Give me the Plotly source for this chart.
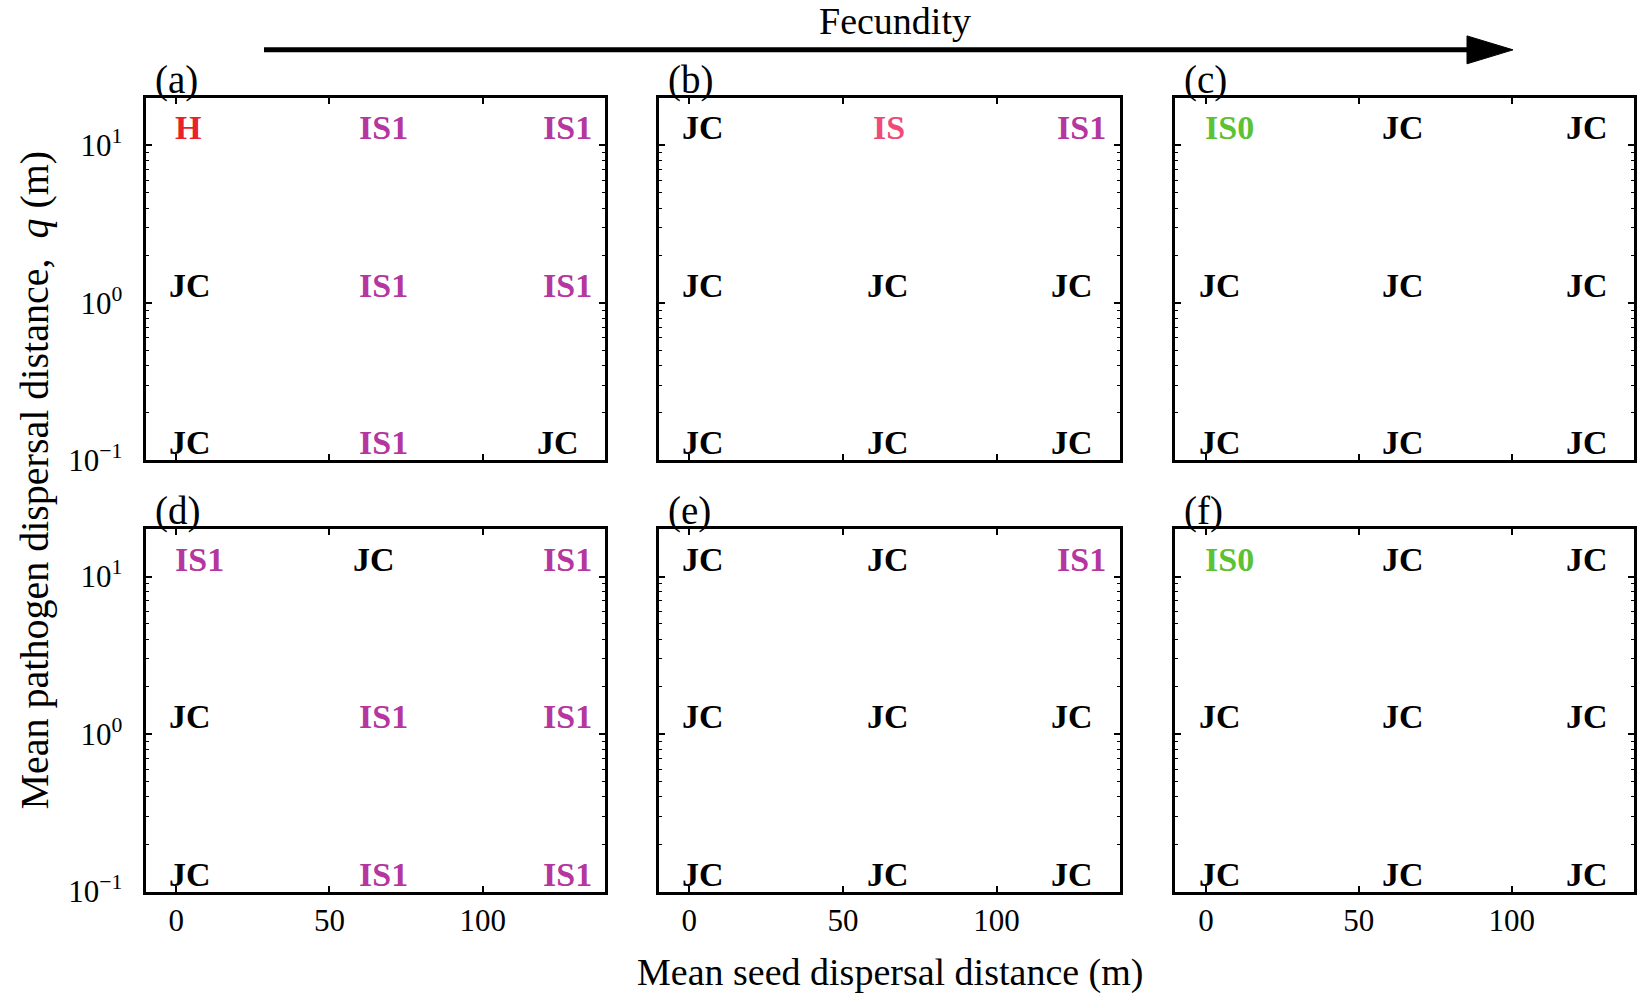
import math
import plotly.graph_objects as go

REF_W, REF_H = 1642, 995
# The photographed page comes out vertically squeezed by ~1.5%, so the figure
# is drawn slightly taller; positions are kept as fractions of the reference.
W, H = 1642, 1010

# ---- data ----
seed_distance = [0, 60, 120]            # mean seed dispersal distance (m), columns
pathogen_distance = [10, 1, 0.1]        # mean pathogen dispersal distance q (m), rows top->bottom
panel_names = ["(a)", "(b)", "(c)", "(d)", "(e)", "(f)"]
panel_a = [["H", "IS1", "IS1"], ["JC", "IS1", "IS1"], ["JC", "IS1", "JC"]]
panel_b = [["JC", "IS", "IS1"], ["JC", "JC", "JC"], ["JC", "JC", "JC"]]
panel_c = [["IS0", "JC", "JC"], ["JC", "JC", "JC"], ["JC", "JC", "JC"]]
panel_d = [["IS1", "JC", "IS1"], ["JC", "IS1", "IS1"], ["JC", "IS1", "IS1"]]
panel_e = [["JC", "JC", "IS1"], ["JC", "JC", "JC"], ["JC", "JC", "JC"]]
panel_f = [["IS0", "JC", "JC"], ["JC", "JC", "JC"], ["JC", "JC", "JC"]]
panels = [panel_a, panel_b, panel_c, panel_d, panel_e, panel_f]

x_ticks = [0, 50, 100]
y_ticks = [0.1, 1, 10]
y_tick_labels = ["10<sup>\u22121</sup>", "10<sup>0</sup>", "10<sup>1</sup>"]
y_minor = [k * 10.0 ** e for e in (-1, 0, 1) for k in range(2, 10) if k * 10.0 ** e <= 20]

outcome_colors = {"JC": "#000000", "H": "#E8222B", "IS1": "#B5369E",
                  "IS": "#F04B78", "IS0": "#5CC232"}
# small glyph-dependent horizontal nudges (the J hook sits further left in the original font)
label_xshift = {"JC": -6}

FONT = "Liberation Serif, Times New Roman, serif"


def pxx(x):
    return x / REF_W


def pxy(y):
    return 1 - y / REF_H


# ---- layout geometry (reference pixels) ----
col_px = [(145.5, 605.3), (658.6, 1119.5), (1175.3, 1634.0)]
row_px = [(98.3, 461.7), (530.7, 894.3)]

fig = go.Figure()
layout = dict(width=W, height=H, margin=dict(l=0, r=0, t=0, b=0),
              plot_bgcolor="white", paper_bgcolor="white", showlegend=False)

annotations = []
for i, grid in enumerate(panels):
    r, c = divmod(i, 3)
    n = i + 1
    xref = "x" if n == 1 else f"x{n}"
    yref = "y" if n == 1 else f"y{n}"
    # invisible trace so each subplot's axes are drawn
    fig.add_trace(go.Scatter(x=[], y=[], mode="markers", xaxis=xref, yaxis=yref,
                             hoverinfo="skip"))
    for ri, q in enumerate(pathogen_distance):
        for ci, s in enumerate(seed_distance):
            lab = grid[ri][ci]
            annotations.append(dict(
                text=lab, xref=xref, yref=yref, x=s, y=math.log10(q),
                xanchor="left", yanchor="bottom",
                xshift=-3 + label_xshift.get(lab, 0), yshift=-3,
                showarrow=False,
                font=dict(family=FONT, size=34, color=outcome_colors[lab], weight="bold")))
    x0, x1 = col_px[c]
    y0, y1 = row_px[r]
    xd = [pxx(x0), pxx(x1)]
    yd = [pxy(y1), pxy(y0)]
    xname = "xaxis" if n == 1 else f"xaxis{n}"
    yname = "yaxis" if n == 1 else f"yaxis{n}"
    layout[xname] = dict(
        domain=xd, range=[-10, 140], anchor=yref,
        tickmode="array", tickvals=x_ticks, ticks="inside", ticklen=6, tickwidth=1.5,
        tickcolor="black", showline=True, linewidth=3, linecolor="black", mirror="ticks",
        showgrid=False, zeroline=False, showticklabels=(r == 1),
        tickfont=dict(family=FONT, size=31, color="black"), ticklabelstandoff=-1)
    layout[yname] = dict(
        domain=yd, type="log", range=[-1, math.log10(20)], anchor=xref,
        tickmode="array", tickvals=y_ticks, ticktext=y_tick_labels,
        ticks="inside", ticklen=6, tickwidth=1.5, tickcolor="black",
        minor=dict(tickmode="array", tickvals=y_minor, ticks="inside", ticklen=3,
                   tickwidth=1, tickcolor="black", showgrid=False),
        showline=True, linewidth=3, linecolor="black", mirror="ticks",
        showgrid=False, zeroline=False, showticklabels=(c == 0),
        tickfont=dict(family=FONT, size=31, color="black"), ticklabelstandoff=14)
    annotations.append(dict(
        text=panel_names[i], xref="paper", yref="paper",
        x=pxx(x0 + 7), y=pxy(y0 - 18), xanchor="left", yanchor="middle",
        showarrow=False, font=dict(family=FONT, size=39, color="black")))

annotations += [
    dict(text="Fecundity", xref="paper", yref="paper", x=pxx(895), y=pxy(21),
         xanchor="center", yanchor="middle", showarrow=False,
         font=dict(family=FONT, size=38, color="black")),
    dict(text="Mean seed dispersal distance (m)", xref="paper", yref="paper",
         x=pxx(890), y=pxy(975), xanchor="center", yanchor="middle", showarrow=False,
         font=dict(family=FONT, size=38, color="black")),
    dict(text="Mean pathogen dispersal distance,  <i>q</i> (m)", xref="paper", yref="paper",
         x=pxx(35), y=pxy(482), xanchor="center", yanchor="middle", showarrow=False,
         textangle=-90, font=dict(family=FONT, size=40, color="black")),
]
layout["annotations"] = annotations

# Fecundity arrow (reference pixels)
ly = pxy(50)
layout["shapes"] = [
    dict(type="line", xref="paper", yref="paper", x0=pxx(264), y0=ly, x1=pxx(1470), y1=ly,
         line=dict(color="black", width=5)),
    dict(type="path", xref="paper", yref="paper",
         path=(f"M {pxx(1467)} {pxy(36)} L {pxx(1513)} {pxy(50)} "
               f"L {pxx(1467)} {pxy(64)} Z"),
         fillcolor="black", line=dict(color="black", width=1)),
]

fig.update_layout(**layout)
fig.write_html(
    "out.html",
    config={"displayModeBar": False},
    post_script=("document.documentElement.style.margin='0';"
                 "document.documentElement.style.padding='0';"
                 "document.body.style.margin='0';"
                 "document.body.style.padding='0';"),
)
